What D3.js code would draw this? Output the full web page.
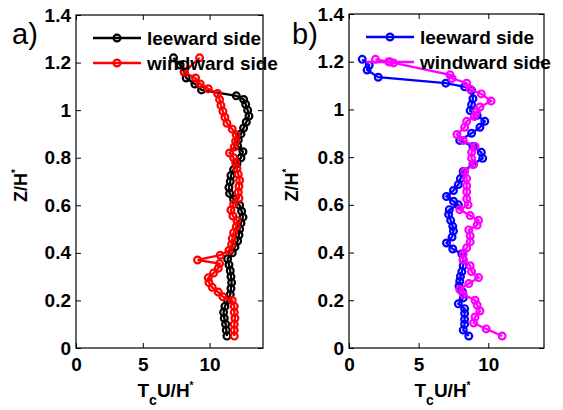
<!DOCTYPE html>
<html>
<head>
<meta charset="utf-8">
<script src="https://cdn.jsdelivr.net/npm/d3@7"></script>
<style>
body { margin: 0; background: #fff; }
text { font-family: "Liberation Sans", Arial, sans-serif; }
</style>
</head>
<body>
<div id="chart"></div>
<script>
// profiles of T_c U / H* against Z / H*
const yTicks = [0, 0.2, 0.4, 0.6, 0.8, 1, 1.2, 1.4];
const xTicks = [0, 5, 10];
const seriesNames = ["leeward side", "windward side"];

// panel a
const aLeeZ = [0.05,0.075,0.1,0.125,0.15,0.175,0.2,0.225,0.25,0.275,0.3,0.325,0.35,0.375,0.4,0.425,0.45,0.475,0.5,0.525,0.55,0.575,0.6,0.625,0.65,0.675,0.7,0.725,0.75,0.775,0.8,0.825,0.85,0.875,0.9,0.925,0.95,0.975,1.0,1.025,1.045,1.06,1.085,1.11,1.135,1.16,1.19,1.22];
const aLeeT = [11.3,11.25,11.2,11.1,11.05,11.15,11.35,11.55,11.6,11.65,11.6,11.55,11.45,11.35,11.7,11.9,12.1,12.2,12.25,12.35,12.5,12.4,12.25,11.8,11.5,11.45,11.55,11.6,11.8,12.05,12.35,12.5,12.1,12.15,12.35,12.55,12.75,12.95,12.85,12.7,12.55,12.0,9.4,8.9,8.25,8.1,7.8,7.3];
const aWinZ = [0.05,0.075,0.1,0.125,0.15,0.175,0.2,0.215,0.235,0.255,0.275,0.295,0.315,0.335,0.355,0.37,0.39,0.41,0.435,0.46,0.485,0.51,0.535,0.555,0.58,0.605,0.63,0.655,0.68,0.705,0.73,0.755,0.78,0.8,0.82,0.845,0.87,0.895,0.92,0.945,0.97,0.995,1.02,1.045,1.07,1.09,1.11,1.135,1.16,1.22];
const aWinT = [11.85,11.85,11.85,11.9,11.85,11.85,11.7,11.0,10.65,10.2,9.95,9.9,10.3,10.65,10.75,9.1,10.8,11.45,11.65,11.7,11.8,12.0,12.05,11.75,11.6,11.8,12.2,12.15,12.2,12.25,12.15,12.05,11.95,11.8,11.5,11.85,11.95,12.0,11.7,11.3,11.15,11.0,10.85,10.75,10.6,9.9,9.3,8.95,8.1,9.25];

// panel b
const bLeeZ = [0.05,0.075,0.1,0.12,0.145,0.165,0.185,0.21,0.235,0.26,0.28,0.3,0.32,0.345,0.37,0.395,0.415,0.44,0.465,0.49,0.51,0.535,0.56,0.58,0.6,0.615,0.635,0.66,0.685,0.71,0.74,0.77,0.795,0.82,0.845,0.87,0.9,0.925,0.95,0.975,0.995,1.02,1.045,1.08,1.095,1.11,1.135,1.165,1.185,1.21];
const bLeeT = [8.6,8.2,8.3,8.3,8.3,8.3,7.85,8.2,8.15,7.9,7.95,8.0,8.1,8.2,8.2,8.1,7.45,7.0,7.4,7.5,7.45,7.3,7.15,7.2,7.85,7.5,7.0,7.5,7.85,8.0,8.2,8.9,9.6,9.5,8.9,7.95,8.8,9.4,9.75,9.2,8.7,8.8,8.9,8.8,8.3,6.95,2.1,1.3,1.45,0.95];
const bWinZ = [0.05,0.08,0.105,0.13,0.155,0.18,0.2,0.225,0.245,0.27,0.295,0.32,0.345,0.37,0.395,0.42,0.445,0.47,0.495,0.515,0.535,0.555,0.58,0.6,0.625,0.655,0.68,0.71,0.74,0.77,0.795,0.82,0.845,0.87,0.895,0.925,0.95,0.97,0.99,1.01,1.035,1.065,1.085,1.11,1.13,1.145,1.195,1.2,1.21];
const bWinT = [11.0,9.85,8.95,9.05,9.4,9.2,9.05,8.2,7.95,8.6,9.3,8.8,8.7,8.2,8.2,8.45,8.7,8.7,8.6,9.2,9.3,8.7,7.95,8.55,8.45,8.45,8.45,8.45,8.3,8.95,8.8,8.8,9.05,8.2,7.75,8.3,8.45,9.0,9.15,9.4,10.2,9.5,8.7,8.45,7.4,7.25,3.2,2.85,1.9];

const svg = d3.select("#chart")
  .append("svg")
  .attr("width", 563)
  .attr("height", 410);

const font = "Liberation Sans, Arial, sans-serif";

function panel(opt) {
  const w = opt.right - opt.left;
  const h = opt.bottom - opt.top;

  const x = d3.scaleLinear().domain([0, 14]).range([0, w]);
  const y = d3.scaleLinear().domain([0, 1.4]).range([h, 0]);

  const g = svg.append("g")
    .attr("transform", `translate(${opt.left},${opt.top})`);

  const tickFmt = d => d3.format("~g")(d);

  // inward ticks on all four sides
  g.append("g").attr("class", "ax")
    .call(d3.axisLeft(y).tickValues(yTicks).tickFormat(tickFmt).tickSizeInner(-5).tickSizeOuter(0).tickPadding(5));
  g.append("g").attr("class", "ax")
    .attr("transform", `translate(${w},0)`)
    .call(d3.axisRight(y).tickValues(yTicks).tickFormat("").tickSizeInner(-5).tickSizeOuter(0));
  g.append("g").attr("class", "ax")
    .attr("transform", `translate(0,${h})`)
    .call(d3.axisBottom(x).tickValues(xTicks).tickFormat(tickFmt).tickSizeInner(-5).tickSizeOuter(0).tickPadding(10));
  g.append("g").attr("class", "ax")
    .call(d3.axisTop(x).tickValues(xTicks).tickFormat("").tickSizeInner(-5).tickSizeOuter(0));

  g.selectAll(".ax text")
    .attr("font-family", font)
    .attr("font-size", 19)
    .attr("font-weight", "bold")
    .attr("fill", "#000");
  g.selectAll(".ax path").remove();
  g.selectAll(".ax line").attr("stroke", "#000");

  g.append("rect")
    .attr("width", w)
    .attr("height", h)
    .attr("fill", "none")
    .attr("stroke", "#000")
    .attr("stroke-width", 1.2);

  const line = d3.line()
    .x(d => x(d[0]))
    .y(d => y(d[1]));

  opt.series.forEach(s => {
    const pts = d3.zip(s.t, s.z);
    g.append("path")
      .datum(pts)
      .attr("d", line)
      .attr("fill", "none")
      .attr("stroke", s.color)
      .attr("stroke-width", 2.3);
    g.selectAll(null)
      .data(pts)
      .enter()
      .append("circle")
      .attr("cx", d => x(d[0]))
      .attr("cy", d => y(d[1]))
      .attr("r", 3.4)
      .attr("fill", "none")
      .attr("stroke", s.color)
      .attr("stroke-width", 2.2);
  });

  // legend (no box)
  opt.series.forEach((s, i) => {
    const ly = 23 + i * 25;
    g.append("line")
      .attr("x1", 17).attr("x2", 65)
      .attr("y1", ly).attr("y2", ly)
      .attr("stroke", s.color)
      .attr("stroke-width", 2.3);
    g.append("circle")
      .attr("cx", 41).attr("cy", ly)
      .attr("r", 3.4)
      .attr("fill", "none")
      .attr("stroke", s.color)
      .attr("stroke-width", 2.2);
    g.append("text")
      .attr("x", 71).attr("y", ly + 7)
      .attr("font-family", font)
      .attr("font-size", 19)
      .attr("font-weight", "bold")
      .text(seriesNames[i]);
  });

  // axis labels
  const xl = g.append("text")
    .attr("x", w / 2 - 4)
    .attr("y", h + 49)
    .attr("text-anchor", "middle")
    .attr("font-family", font)
    .attr("font-size", 19)
    .attr("font-weight", "bold");
  xl.append("tspan").text("T");
  xl.append("tspan").attr("font-size", 14).attr("dy", 8).text("c");
  xl.append("tspan").attr("dy", -8).text("U/H");
  xl.append("tspan").attr("font-size", 10).attr("dy", -8).text("*");

  const yl = g.append("text")
    .attr("transform", `translate(${opt.ylabX - opt.left},${h / 2 + 4}) rotate(-90)`)
    .attr("text-anchor", "middle")
    .attr("font-family", font)
    .attr("font-size", 18)
    .attr("font-weight", "bold");
  yl.append("tspan").text("Z/H");
  yl.append("tspan").attr("font-size", 10).attr("dy", -8).text("*");

  svg.append("text")
    .attr("x", opt.tagX)
    .attr("y", 44)
    .attr("font-family", font)
    .attr("font-size", 29)
    .text(opt.tag);
}

panel({
  left: 76, right: 263, top: 15, bottom: 348,
  tag: "a)", tagX: 12, ylabX: 27,
  series: [
    { z: aLeeZ, t: aLeeT, color: "#000" },
    { z: aWinZ, t: aWinT, color: "#f00" }
  ]
});

panel({
  left: 349, right: 544, top: 14, bottom: 348,
  tag: "b)", tagX: 292, ylabX: 298,
  series: [
    { z: bLeeZ, t: bLeeT, color: "#00f" },
    { z: bWinZ, t: bWinT, color: "#f0f" }
  ]
});
</script>
</body>
</html>
